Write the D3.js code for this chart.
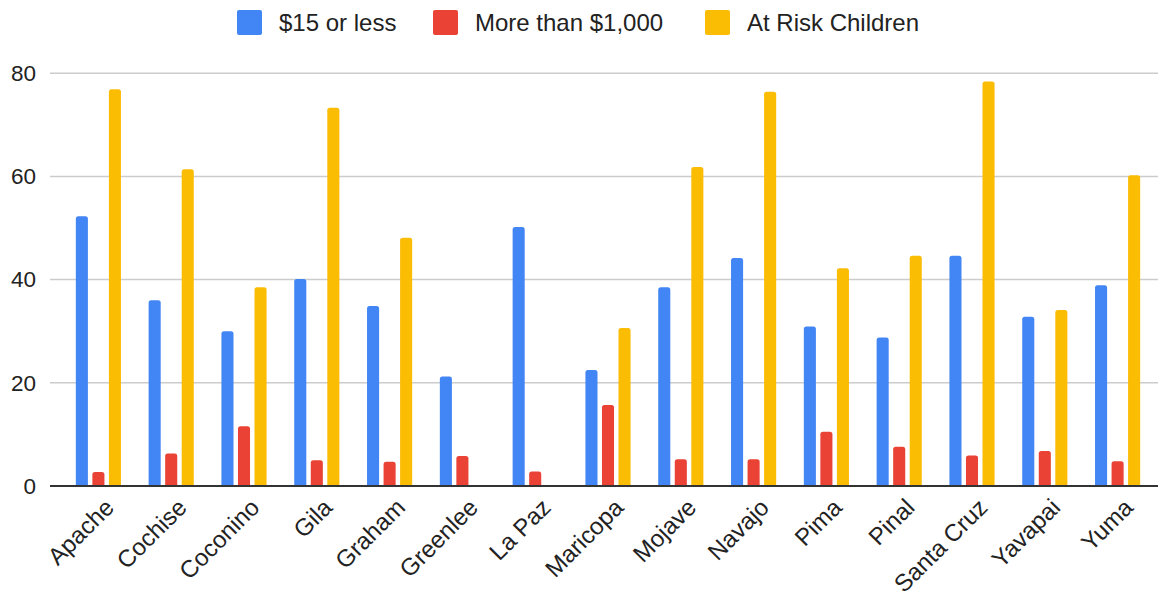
<!DOCTYPE html>
<html>
<head>
<meta charset="utf-8">
<script src="https://cdn.jsdelivr.net/npm/d3@7"></script>
<style>
  html, body { margin: 0; padding: 0; background: #fff; }
  svg { display: block; font-family: "Liberation Sans", Arial, sans-serif; }
</style>
</head>
<body>
<svg id="chart" width="1158" height="598"></svg>
<script>
// Arizona counties
const counties = ["Apache", "Cochise", "Coconino", "Gila", "Graham", "Greenlee", "La Paz",
  "Maricopa", "Mojave", "Navajo", "Pima", "Pinal", "Santa Cruz", "Yavapai", "Yuma"];

const seriesNames = ["$15 or less", "More than $1,000", "At Risk Children"];
const seriesColors = ["#4285F4", "#EA4335", "#FBBC04"];

const fifteenOrLess = [52.3, 36.0, 30.0, 40.1, 34.9, 21.2, 50.2, 22.5, 38.5, 44.2, 30.9, 28.8, 44.6, 32.8, 38.9];
const moreThan1000  = [2.7, 6.3, 11.6, 5.0, 4.7, 5.8, 2.8, 15.7, 5.2, 5.2, 10.5, 7.6, 5.9, 6.8, 4.8];
const atRiskChildren = [76.9, 61.4, 38.5, 73.3, 48.1, 0, 0, 30.6, 61.8, 76.4, 42.2, 44.6, 78.4, 34.1, 60.2];

const yTicks = [0, 20, 40, 60, 80];

const seriesValues = [fifteenOrLess, moreThan1000, atRiskChildren];

const svg = d3.select("#chart");
const plotLeft = 50, plotRight = 1158;
const y = d3.scaleLinear().domain([0, 80]).range([486, 73.2]);

const x0 = d3.scaleBand().domain(counties).range([62, 1154]).paddingInner(0.38).paddingOuter(0.19);
const x1 = d3.scaleBand().domain(d3.range(3)).range([0, x0.bandwidth()]).paddingInner(0.27).paddingOuter(0);

// gridlines
svg.append("g").selectAll("line").data(yTicks.filter(d => d !== 0)).join("line")
  .attr("x1", plotLeft).attr("x2", plotRight)
  .attr("y1", d => y(d)).attr("y2", d => y(d))
  .attr("stroke", "#cccccc").attr("stroke-width", 1.5);

// y tick labels
svg.append("g").selectAll("text").data(yTicks).join("text")
  .attr("x", 36).attr("y", d => y(d)).attr("dy", "0.35em")
  .attr("text-anchor", "end").attr("font-size", 22.5).attr("fill", "#222")
  .text(d => d);

// bars with rounded tops
function barPath(x, w, yTop, yBase, r) {
  const h = yBase - yTop;
  if (h <= 0) return "";
  r = Math.min(r, h, w / 2);
  return `M${x},${yBase}V${yTop + r}Q${x},${yTop} ${x + r},${yTop}H${x + w - r}Q${x + w},${yTop} ${x + w},${yTop + r}V${yBase}Z`;
}

const barData = [];
counties.forEach((c, i) => {
  seriesValues.forEach((vals, s) => barData.push({ county: c, s, v: vals[i] }));
});

svg.append("g").selectAll("path").data(barData.filter(d => d.v > 0)).join("path")
  .attr("d", d => barPath(x0(d.county) + x1(d.s), x1.bandwidth(), y(d.v), y(0), 2.5))
  .attr("fill", d => seriesColors[d.s]);

// baseline
svg.append("line").attr("x1", plotLeft).attr("x2", plotRight)
  .attr("y1", y(0)).attr("y2", y(0)).attr("stroke", "#333").attr("stroke-width", 2);

// category labels
svg.append("g").selectAll("text").data(counties).join("text")
  .attr("transform", d => `translate(${x0(d) + x0.bandwidth() / 2 + 11},${y(0) + 17}) rotate(-45)`)
  .attr("text-anchor", "end").attr("dy", "0.35em")
  .attr("font-size", 24).attr("fill", "#222")
  .text(d => d);

// legend
const legendItems = [
  { name: seriesNames[0], color: seriesColors[0], x: 237 },
  { name: seriesNames[1], color: seriesColors[1], x: 433 },
  { name: seriesNames[2], color: seriesColors[2], x: 705 }
];
const lg = svg.append("g").selectAll("g").data(legendItems).join("g")
  .attr("transform", d => `translate(${d.x},10)`);
lg.append("rect").attr("width", 25).attr("height", 25).attr("rx", 2).attr("fill", d => d.color);
lg.append("text").attr("x", 42).attr("y", 12.5).attr("dy", "0.35em")
  .attr("font-size", 24).attr("fill", "#222").text(d => d.name);
</script>
</body>
</html>
